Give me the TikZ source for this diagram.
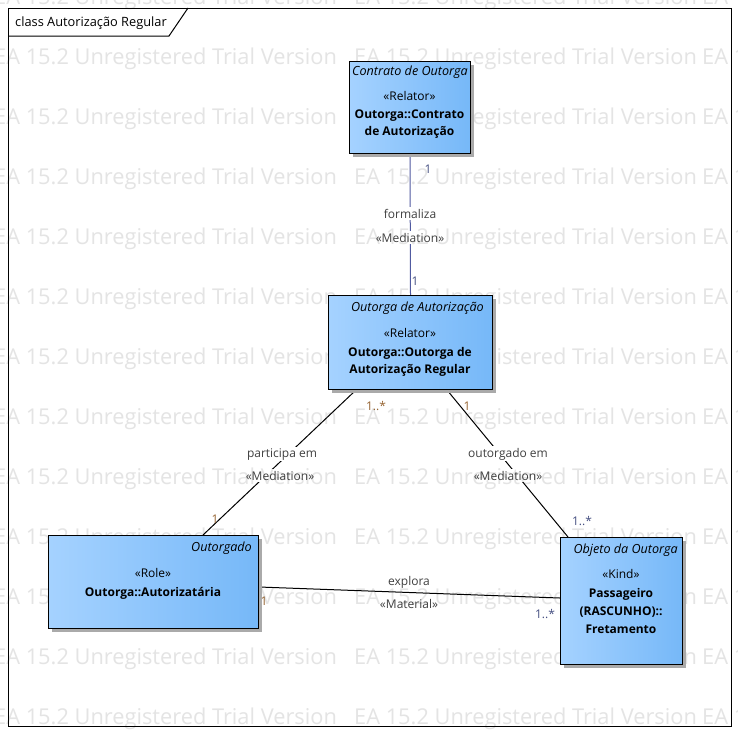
\documentclass[tikz,border=0pt]{standalone}
\usepackage{fontspec}
\setmainfont{Open Sans}
\newfontfamily\wmfont{Open Sans}
\usetikzlibrary{calc}
\definecolor{boxL}{RGB}{165,210,255}
\definecolor{boxR}{RGB}{118,184,248}
\definecolor{wmc}{RGB}{228,228,228}
\definecolor{brownlab}{RGB}{150,100,50}
\definecolor{bluelab}{RGB}{70,80,130}
\definecolor{medline}{RGB}{80,90,160}
\definecolor{labtxt}{RGB}{64,64,64}
\definecolor{shadowc}{RGB}{170,170,170}
\newcommand{\dfont}{\fontsize{12}{14}\selectfont}
\newcommand{\ifont}{\fontsize{12.6}{14}\selectfont\itshape}
\begin{document}
\begin{tikzpicture}[x=1pt,y=-1pt,
  umlbox/.style={draw=black, line width=1pt, left color=boxL, right color=boxR, inner sep=0pt, anchor=north west},
  txt/.style={font=\dfont, inner sep=0pt, text=black, anchor=base},
  nametxt/.style={txt, font=\ifont, anchor=base east},
  boldtxt/.style={txt, font=\dfont\bfseries},
  lab/.style={font=\dfont, text=labtxt, inner sep=1.5pt, fill=white, anchor=base},
  multb/.style={font=\dfont, text=brownlab, inner sep=0pt, anchor=base},
  multl/.style={font=\dfont, text=bluelab, inner sep=0pt, anchor=base},
  wmtext/.style={font=\wmfont\fontsize{21.8}{24}\selectfont, text=wmc, inner sep=0pt, anchor=base west},
  conn/.style={line width=1pt, draw=black},
  medconn/.style={line width=1pt, draw=medline}
]
\useasboundingbox (0,0) rectangle (738,734);
\clip (0,0) rectangle (738,734);
\fill[white] (0,0) rectangle (738,734);

% box anchors (invisible placement nodes for connectors)
\node[umlbox, draw=none, left color=white, right color=white, minimum width=121pt, minimum height=92pt] (b1) at (349,61) {};
\node[umlbox, draw=none, left color=white, right color=white, minimum width=164pt, minimum height=94pt] (b2) at (328,295) {};
\node[umlbox, draw=none, left color=white, right color=white, minimum width=210pt, minimum height=93pt] (b3) at (48,535) {};
\node[umlbox, draw=none, left color=white, right color=white, minimum width=122pt, minimum height=127pt] (b4) at (560,537) {};

% connector end points
\coordinate (p2a) at ($(b2.south west)+(28,0)$);
\coordinate (p3a) at ($(b3.north west)+(155,0)$);
\coordinate (p2b) at ($(b2.south west)+(119,0)$);
\coordinate (p4a) at ($(b4.north west)+(8,0)$);
\coordinate (p3b) at ($(b3.south east)+(0,-42)$);
\coordinate (p4b) at ($(b4.north west)+(0,61)$);

% connectors
\draw[medconn] (b1.south) -- (b2.north);
\draw[conn] (p2a) -- (p3a);
\draw[conn] (p2b) -- (p4a);
\draw[conn] (p3b) -- (p4b);

% connector labels
\node[multl] (m1a) at (428,173) {1};
\node[lab] (l1a) at (410,218) {formaliza};
\node[lab] (l1b) at (410,242) {«Mediation»};
\node[multl] (m1b) at (415,285) {1};

\node[multb] (m2a) at (376,410) {1..*};
\node[lab] (l2a) at (282,457) {participa em};
\node[lab] (l2b) at (280,480) {«Mediation»};
\node[multb] (m2b) at (215,523) {1};

\node[multb] (m3a) at (467,410) {1};
\node[lab] (l3a) at (508,457) {outorgado em};
\node[lab] (l3b) at (508,480) {«Mediation»};
\node[multl] (m3b) at (582,525) {1..*};

\node[lab] (l4a) at (409,585) {explora};
\node[lab] (l4b) at (409,608) {«Material»};
\node[multb] (m4a) at (264,605) {1};
\node[multl] (m4b) at (545,618) {1..*};

% watermark
\begin{scope}[blend mode=multiply]
\foreach \r [count=\i] in {4,64,...,724} {
  \foreach \c [count=\j] in {-6,354,702} {
    \node[wmtext] (wm\i-\j) at (\c,\r) {EA 15.2 Unregistered Trial Version};
  }
}
\end{scope}

% frame
\draw[line width=1pt] (8,8) rectangle (731,726);
\draw[line width=1pt] (8,36) -- (169,36) -- (188,8);
\node[txt, font=\fontsize{12.8}{14}\selectfont, anchor=base west] (title) at (15,26) {class Autorização Regular};

% shadows
\fill[shadowc] (353,65) rectangle (474,157);
\fill[shadowc] (332,299) rectangle (496,393);
\fill[shadowc] (52,539) rectangle (262,632);
\fill[shadowc] (564,541) rectangle (686,668);

% boxes
\node[umlbox, minimum width=121pt, minimum height=92pt] (B1) at (349,61) {};
\node[umlbox, minimum width=164pt, minimum height=94pt] (B2) at (328,295) {};
\node[umlbox, minimum width=210pt, minimum height=93pt] (B3) at (48,535) {};
\node[umlbox, minimum width=122pt, minimum height=127pt] (B4) at (560,537) {};

% box texts
\node[nametxt] (t1n) at (468,75) {Contrato de Outorga};
\node[txt] (t1s) at (409.5,100) {«Relator»};
\node[boldtxt] (t1a) at (409.5,118) {Outorga::Contrato};
\node[boldtxt] (t1b) at (409.5,135) {de Autorização};

\node[nametxt] (t2n) at (484,311) {Outorga de Autorização};
\node[txt] (t2s) at (410,337) {«Relator»};
\node[boldtxt] (t2a) at (410,356) {Outorga::Outorga de};
\node[boldtxt] (t2b) at (410,373) {Autorização Regular};

\node[nametxt] (t3n) at (252,551) {Outorgado};
\node[txt] (t3s) at (153,577) {«Role»};
\node[boldtxt] (t3a) at (153,596) {Outorga::Autorizatária};

\node[nametxt] (t4n) at (678,553) {Objeto da Outorga};
\node[txt] (t4s) at (621,578) {«Kind»};
\node[boldtxt] (t4a) at (621,597) {Passageiro};
\node[boldtxt] (t4b) at (621,615) {(RASCUNHO)::};
\node[boldtxt] (t4c) at (621,633) {Fretamento};
\end{tikzpicture}
\end{document}
